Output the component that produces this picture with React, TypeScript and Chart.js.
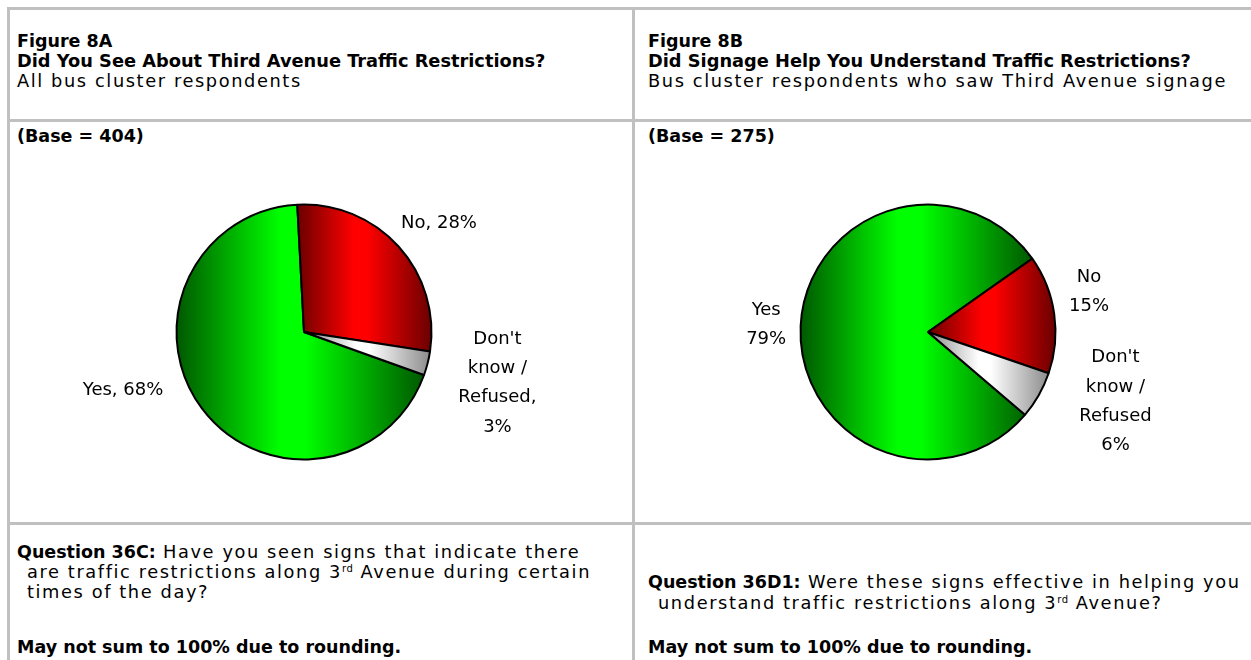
import React, { useEffect, useRef } from "react";
import { Chart, registerables } from "chart.js";

Chart.register(...registerables);

// ---------- data ----------
const CATEGORIES = ["Yes", "No", "Don't know / Refused"];
const VALUES_A = [68, 28, 3];
const VALUES_B = [79, 15, 6];
const BASE_A = 404;
const BASE_B = 275;
const CATEGORY_WRAP: Record<string, string[]> = {
  "Don't know / Refused": ["Don't", "know /", "Refused"],
};

// ---------- styles ----------
const PIE_RADIUS = 127.5;
const ROTATION_A = 109.7;
const ROTATION_B = 130.5;
const LABEL_PLACE_A = [
  { dist: 190, dAngle: 18.9 },
  { dist: 173, dAngle: 3.4 },
  { dist: 200, dAngle: 0.5 },
];
const LABEL_PLACE_B = [
  { dist: 162, dAngle: -0.2 },
  { dist: 166, dAngle: -5.9 },
  { dist: 200, dAngle: -9.3 },
];
const SLICE_COLORS = [
  { dark: "#005800", bright: "#00ff00" },
  { dark: "#6a0000", bright: "#ff0000" },
  { dark: "#8c8c8c", bright: "#ffffff" },
];
const FONT = '"DejaVu Sans", Verdana, sans-serif';
const BOLD: React.CSSProperties = { fontFamily: FONT, fontWeight: 700, fontSize: "17.5px" };
const REG: React.CSSProperties = { fontFamily: FONT, fontWeight: 400, fontSize: "17.8px", letterSpacing: "1.6px" };
const GRID = "#c0c0c0";

function labelsA(values: number[]): string[][] {
  return CATEGORIES.map((c, i) => {
    const w = CATEGORY_WRAP[c];
    if (w) return [...w.slice(0, -1), w[w.length - 1] + ",", `${values[i]}%`];
    return [`${c}, ${values[i]}%`];
  });
}
function labelsB(values: number[]): string[][] {
  return CATEGORIES.map((c, i) => {
    const w = CATEGORY_WRAP[c] || [c];
    return [...w, `${values[i]}%`];
  });
}

function makeGradient(c: any, rotationDeg: number) {
  const i = c.dataIndex;
  const col = SLICE_COLORS[i];
  const chart = c.chart;
  const area = chart.chartArea;
  if (!area) return col.bright;
  const data = c.dataset.data as number[];
  const total = data.reduce((s, v) => s + v, 0);
  const before = data.slice(0, i).reduce((s, v) => s + v, 0);
  const rot = (rotationDeg * Math.PI) / 180 - Math.PI / 2;
  const a0 = rot + (before / total) * Math.PI * 2;
  const a1 = a0 + (data[i] / total) * Math.PI * 2;
  const cx = (area.left + area.right) / 2;
  const r = PIE_RADIUS;
  const xs = [cx, cx + r * Math.cos(a0), cx + r * Math.cos(a1)];
  for (let k = Math.ceil(a0 / Math.PI); k <= Math.floor(a1 / Math.PI); k++) {
    xs.push(cx + r * Math.cos(k * Math.PI));
  }
  const x0 = Math.min(...xs);
  const x1 = Math.max(...xs);
  const g = chart.ctx.createLinearGradient(x0, 0, x1, 0);
  g.addColorStop(0, col.dark);
  g.addColorStop(0.42, col.bright);
  g.addColorStop(0.52, col.bright);
  g.addColorStop(1, col.dark);
  return g;
}

function PieChart(props: {
  values: number[];
  rotation: number;
  lines: string[][];
  place: { dist: number; dAngle: number }[];
  left: number;
  top: number;
  width: number;
  height: number;
}) {
  const ref = useRef<HTMLCanvasElement | null>(null);
  useEffect(() => {
    const { values, rotation, lines, place } = props;
    const labelPlugin = {
      id: "sliceLabels",
      afterDatasetsDraw(chart: any) {
        const ctx = chart.ctx;
        const meta = chart.getDatasetMeta(0);
        ctx.save();
        ctx.font = `18px ${FONT}`;
        ctx.fillStyle = "#000";
        ctx.textAlign = "center";
        ctx.textBaseline = "middle";
        meta.data.forEach((arc: any, i: number) => {
          const p = arc.getProps(["x", "y", "startAngle", "endAngle", "outerRadius"], true);
          const mid = (p.startAngle + p.endAngle) / 2 + (place[i].dAngle * Math.PI) / 180;
          const lx = p.x + Math.cos(mid) * place[i].dist;
          const ly = p.y + Math.sin(mid) * place[i].dist;
          const L = lines[i];
          const lh = 29.3;
          L.forEach((t, j) => {
            ctx.fillText(t, lx, ly + (j - (L.length - 1) / 2) * lh);
          });
        });
        ctx.restore();
      },
    };
    const chart = new Chart(ref.current as HTMLCanvasElement, {
      type: "pie",
      data: {
        labels: CATEGORIES,
        datasets: [
          {
            data: values,
            backgroundColor: (c: any) => makeGradient(c, rotation),
            borderColor: "#000000",
            borderWidth: 2,
            hoverOffset: 0,
          } as any,
        ],
      },
      options: {
        animation: false,
        responsive: false,
        rotation,
        radius: PIE_RADIUS,
        events: [],
        layout: { padding: 0 },
        plugins: { legend: { display: false }, tooltip: { enabled: false } },
      } as any,
      plugins: [labelPlugin],
    });
    return () => chart.destroy();
  }, []);
  return (
    <canvas
      ref={ref}
      width={props.width}
      height={props.height}
      style={{ position: "absolute", left: props.left, top: props.top, width: props.width, height: props.height }}
    />
  );
}

function Line(props: { x: number; baseline: number; children: React.ReactNode; style?: React.CSSProperties }) {
  return (
    <div
      style={{
        position: "absolute",
        left: props.x,
        top: props.baseline - 16,
        lineHeight: "20px",
        whiteSpace: "nowrap",
        color: "#000",
        ...props.style,
      }}
    >
      {props.children}
    </div>
  );
}

const Sup = () => (
  <sup style={{ fontSize: "10px", letterSpacing: "0.5px", verticalAlign: "6px", lineHeight: 0 }}>rd</sup>
);

function Rule(props: { left: number; top: number; width: number; height: number }) {
  return <div style={{ position: "absolute", background: GRID, ...props }} />;
}

export default function App() {
  useEffect(() => {
    document.body.style.overflow = "hidden";
  }, []);
  return (
    <div style={{ position: "fixed", left: 0, top: 0, width: 1251, height: 660, overflow: "hidden", background: "#fff" }}>
      <Rule left={7} top={7} width={1244} height={3} />
      <Rule left={7} top={7} width={3} height={653} />
      <Rule left={632} top={7} width={3} height={653} />
      <Rule left={7} top={119} width={1244} height={3} />
      <Rule left={7} top={522} width={1244} height={3} />

      {/* Left panel header */}
      <Line x={17} baseline={47} style={BOLD}>Figure 8A</Line>
      <Line x={17} baseline={67} style={{ ...BOLD, fontSize: "17.8px" }}>Did You See About Third Avenue Traffic Restrictions?</Line>
      <Line x={17} baseline={87} style={REG}>All bus cluster respondents</Line>
      <Line x={17} baseline={142} style={BOLD}>(Base = {BASE_A})</Line>

      {/* Right panel header */}
      <Line x={648} baseline={47} style={BOLD}>Figure 8B</Line>
      <Line x={648} baseline={67} style={{ ...BOLD, fontSize: "17.8px" }}>Did Signage Help You Understand Traffic Restrictions?</Line>
      <Line x={648} baseline={87} style={REG}>Bus cluster respondents who saw Third Avenue signage</Line>
      <Line x={648} baseline={142} style={BOLD}>(Base = {BASE_B})</Line>

      <PieChart values={VALUES_A} rotation={ROTATION_A} lines={labelsA(VALUES_A)} place={LABEL_PLACE_A} left={10} top={142} width={588} height={380} />
      <PieChart values={VALUES_B} rotation={ROTATION_B} lines={labelsB(VALUES_B)} place={LABEL_PLACE_B} left={635} top={142} width={586} height={380} />

      {/* Left footer */}
      <Line x={17} baseline={558} style={REG}>
        <span style={{ ...BOLD, letterSpacing: 0 }}>Question 36C:</span> Have you seen signs that indicate there
      </Line>
      <Line x={27} baseline={578} style={REG}>
        are traffic restrictions along 3<Sup /> Avenue during certain
      </Line>
      <Line x={27} baseline={598} style={REG}>times of the day?</Line>
      <Line x={17} baseline={653} style={BOLD}>May not sum to 100% due to rounding.</Line>

      {/* Right footer */}
      <Line x={648} baseline={588} style={REG}>
        <span style={{ ...BOLD, letterSpacing: 0 }}>Question 36D1:</span> Were these signs effective in helping you
      </Line>
      <Line x={658} baseline={609} style={REG}>
        understand traffic restrictions along 3<Sup /> Avenue?
      </Line>
      <Line x={648} baseline={653} style={BOLD}>May not sum to 100% due to rounding.</Line>
    </div>
  );
}
